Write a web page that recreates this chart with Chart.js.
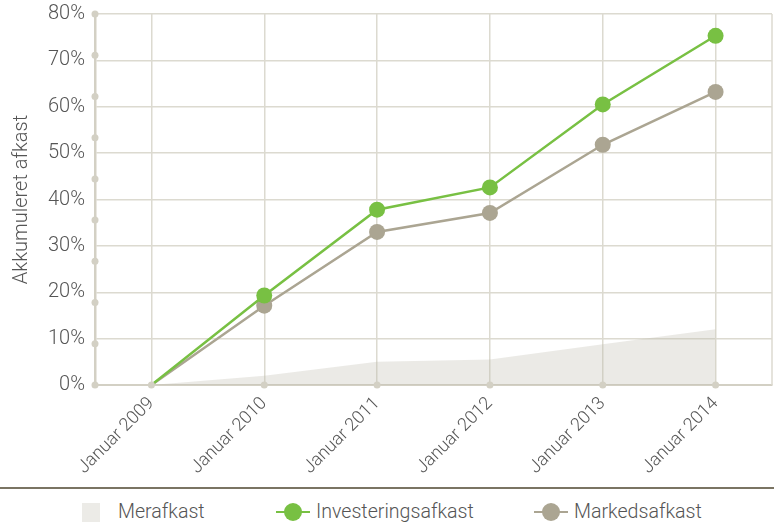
<!DOCTYPE html>
<html><head><meta charset="utf-8">
<script src="https://cdn.jsdelivr.net/npm/chart.js@4/dist/chart.umd.min.js"></script>
<style>
html,body{margin:0;padding:0;background:#fff;width:774px;height:525px;overflow:hidden;font-family:Roboto,sans-serif;}
#wrap{position:absolute;left:0;top:0;width:774px;height:488px;}
#rule{position:absolute;left:0;top:487px;width:774px;height:2px;background:#7a7463;}
.leg{position:absolute;top:500px;height:24px;font-size:19.6px;color:#555;line-height:24px;font-weight:300;}
.sq{position:absolute;left:82px;top:503px;width:18px;height:19px;background:#ecebe7;}
.ln{position:absolute;top:511px;height:2px;width:34px;}
.dt{position:absolute;top:503px;width:18px;height:18px;border-radius:50%;}
</style></head>
<body>
<div id="wrap"><canvas id="c" width="774" height="488"></canvas></div>
<div id="rule"></div>
<div class="sq"></div><div class="leg" style="left:118px">Merafkast</div>
<div class="ln" style="left:276px;background:#78c043"></div><div class="dt" style="left:284px;background:#78c043"></div>
<div class="leg" style="left:316px">Investeringsafkast</div>
<div class="ln" style="left:534px;background:#aba592"></div><div class="dt" style="left:542px;background:#aba592"></div>
<div class="leg" style="left:574px">Markedsafkast</div>
<script>
const categories = ["Januar 2009","Januar 2010","Januar 2011","Januar 2012","Januar 2013","Januar 2014"];
const investeringsafkast = [0, 19.3, 37.8, 42.6, 60.5, 75.3];
const markedsafkast = [0, 17.1, 33.0, 37.1, 51.8, 63.2];
const merafkast = [0, 2.0, 5.0, 5.5, 8.8, 12.0];
const yTicks = [0,10,20,30,40,50,60,70,80];

const axisCol = '#d3d0c4';
const gridCol = '#dcdad0';
const textCol = '#555555';

const decor = {
  id:'decor',
  afterDraw(chart){
    const {ctx, chartArea:a, scales} = chart;
    ctx.save();
    ctx.strokeStyle = gridCol; ctx.lineWidth = 1.5;
    ctx.beginPath(); ctx.moveTo(a.right, a.top); ctx.lineTo(a.right, a.bottom); ctx.stroke();
    ctx.fillStyle = axisCol;
    const y2 = scales.y2;
    for(let i=0;i<=9;i++){
      ctx.beginPath(); ctx.arc(a.left, y2.getPixelForValue(i), 3.5, 0, Math.PI*2); ctx.fill();
    }
    for(let i=0;i<categories.length;i++){
      ctx.beginPath(); ctx.arc(scales.x.getPixelForValue(i), a.bottom, 3.5, 0, Math.PI*2); ctx.fill();
    }
    ctx.restore();
  }
};

new Chart(document.getElementById('c'), {
  type:'line',
  data:{
    labels:categories,
    datasets:[
      {label:'Investeringsafkast', data:investeringsafkast, borderColor:'#78c043', backgroundColor:'#78c043',
        borderWidth:2.5, pointRadius:[0,8,8,8,8,8], pointHoverRadius:8, pointBorderWidth:0, fill:false, order:1},
      {label:'Markedsafkast', data:markedsafkast, borderColor:'#aba592', backgroundColor:'#aba592',
        borderWidth:2.5, pointRadius:[0,8,8,8,8,8], pointHoverRadius:8, pointBorderWidth:0, fill:false, order:2},
      {label:'Merafkast', data:merafkast, borderWidth:0, borderColor:'rgba(0,0,0,0)', pointRadius:0,
        backgroundColor:'rgba(188,185,172,0.3)', fill:'origin', order:3}
    ]
  },
  options:{
    responsive:false, animation:false,
    layout:{autoPadding:false, padding:{top:14,right:2,left:0,bottom:0}},
    plugins:{legend:{display:false}, tooltip:{enabled:false}},
    scales:{
      x:{
        offset:true,
        grid:{offset:false, color:gridCol, lineWidth:1.5, drawTicks:false},
        border:{color:axisCol, width:2},
        ticks:{color:textCol, font:{family:'Roboto', size:18, weight:300}, maxRotation:45, minRotation:45, padding:8},
        afterFit(s){ s.height = 103; s.paddingLeft = 0; s.paddingRight = 0; }
      },
      y:{
        min:0, max:80,
        afterBuildTicks(s){ s.ticks = yTicks.map(v=>({value:v})); },
        grid:{color:gridCol, lineWidth:1.5, drawTicks:false},
        border:{color:axisCol, width:2.5},
        ticks:{color:textCol, font:{family:'Roboto', size:20, weight:300}, padding:10, callback:v=>v+'%'},
        title:{display:true, text:'Akkumuleret afkast', color:textCol, font:{family:'Roboto', size:20, weight:300}, padding:{top:10,bottom:0}},
        afterFit(s){ s.width = 95; s.paddingTop = 0; s.paddingBottom = 0; }
      },
      y2:{display:false, min:0, max:9}
    }
  },
  plugins:[decor]
});
</script>
</body></html>
